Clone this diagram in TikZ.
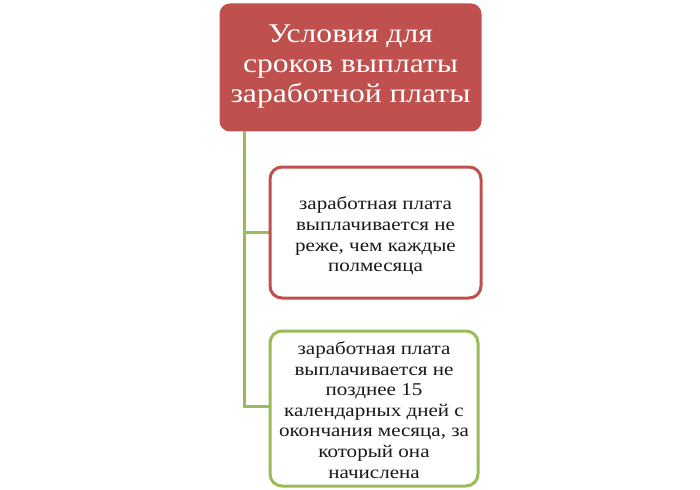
\documentclass[tikz,border=0pt]{standalone}
\usepackage{fontspec}
\setmainfont{Liberation Serif}
\newfontfamily\widefont[FakeStretch=1.17]{Liberation Serif}
\definecolor{boxred}{HTML}{C0504D}
\definecolor{boxgreen}{HTML}{9BBB59}
\begin{document}
\begin{tikzpicture}[x=1pt,y=-1pt,
  titlebox/.style={draw=boxred, fill=boxred, rounded corners=10pt, line width=1pt},
  redbox/.style={draw=boxred, fill=white, rounded corners=12pt, line width=3pt},
  greenbox/.style={draw=boxgreen, fill=white, rounded corners=12pt, line width=3pt},
  conn/.style={draw=boxgreen, line width=3pt},
  txt/.style={align=center, font=\widefont\fontsize{18}{20.6}\selectfont, text=black!90}]
\useasboundingbox (0,0) rectangle (700,489);
% title
\draw[titlebox] (220,4) rectangle (481,131);
\node[align=center, text=white, font=\widefont\fontsize{27}{30}\selectfont] (title) at (350.5,67) {Условия для\\сроков выплаты\\заработной платы};
\coordinate (top) at (244,131);
% connectors
\coordinate (j1) at (244,232);
\coordinate (j2) at (244,406);
\draw[conn] (top) -- (j2) -- (270,406);
\draw[conn] (j1) -- (270,232);
% box 2
\draw[redbox] (270,167) rectangle (481,298);
\node[txt] (b2) at (375.5,236) {заработная плата\\выплачивается не\\реже, чем каждые\\полмесяца};
% box 3
\draw[greenbox] (270,331) rectangle (478,486);
\node[txt] (b3) at (374,410) {заработная плата\\выплачивается не\\позднее 15\\календарных дней с\\окончания месяца, за\\который она\\начислена};
\end{tikzpicture}
\end{document}
